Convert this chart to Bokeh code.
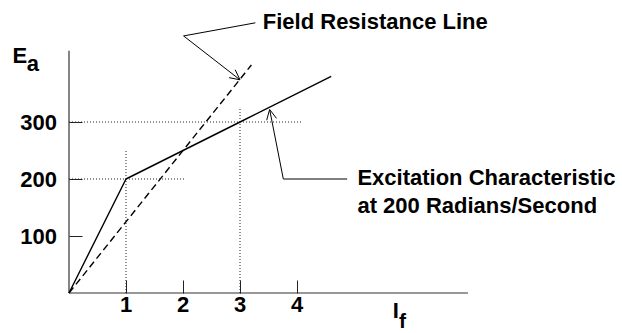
from bokeh.plotting import figure
from bokeh.models import Range1d, FixedTicker, Label, Arrow, OpenHead
from bokeh.embed import file_html
from bokeh.resources import INLINE

# ---- data ----
if_ticks = [1, 2, 3, 4]
ea_ticks = [100, 200, 300]

# excitation characteristic (solid)
exc_if = [0, 1, 2, 3, 4.6]
exc_ea = [0, 200, 250, 300, 380]

# field resistance line (dashed)
field_if = [0, 3.2]
field_ea = [0, 400]

# dotted guide lines
hguide_ea = [300, 200]
hguide_if_end = [4.1, 2.05]
vguide_if = [1, 3]
vguide_ea_end = [250, 325]

# axis extents
if_axis_max = 7.0
ea_axis_max = 425

# leader lines for callouts
field_lead_if = [3.27, 2.01, 3.0]
field_lead_ea = [474, 451, 374]
exc_lead_if = [4.88, 3.76, 3.52]
exc_lead_ea = [200, 200, 322]

FONT = "Liberation Sans"
PX_X = 57.0   # pixels per unit of I_f
PX_Y = 0.57   # pixels per unit of E_a

W, H = 622, 333
OX, OY = 68.5, 292.5   # pixel position of the origin

p = figure(width=W, height=H,
           x_range=Range1d(-OX / PX_X, (W - OX) / PX_X),
           y_range=Range1d(-(H - OY) / PX_Y, OY / PX_Y),
           min_border_left=0, min_border_bottom=0,
           min_border_top=0, min_border_right=0,
           output_backend="svg", toolbar_location=None)
p.grid.visible = False
p.outline_line_color = None
p.background_fill_color = "white"
p.border_fill_color = "white"

for ax in (p.xaxis[0], p.yaxis[0]):
    ax.fixed_location = 0
    ax.axis_line_color = None
    ax.major_tick_in = 13
    ax.major_tick_out = 0
    ax.minor_tick_line_color = None
    ax.major_tick_line_color = "#222222"
    ax.major_tick_line_width = 1
    ax.major_label_text_font = FONT
    ax.major_label_text_font_style = "bold"
    ax.major_label_text_font_size = "22px"
    ax.major_label_text_color = "black"

p.xaxis[0].ticker = FixedTicker(ticks=if_ticks)
p.yaxis[0].ticker = FixedTicker(ticks=ea_ticks)
p.xaxis[0].major_label_standoff = 4
p.yaxis[0].major_label_standoff = 12

# axis lines
p.segment(x0=[0, 0], y0=[0, 0], x1=[0, if_axis_max], y1=[ea_axis_max, 0],
          line_color="#333333", line_width=1.2)

# dotted guides
p.segment(x0=[0] * len(hguide_ea), y0=hguide_ea, x1=hguide_if_end, y1=hguide_ea,
          line_color="#222222", line_width=1, line_dash="1 2")
p.segment(x0=vguide_if, y0=[0] * len(vguide_if), x1=vguide_if, y1=vguide_ea_end,
          line_color="#222222", line_width=1, line_dash="1 2")

# curves
p.line(exc_if, exc_ea, line_color="black", line_width=1.4)
p.line(field_if, field_ea, line_color="black", line_width=1.4, line_dash="7 4")

# leaders
p.line(field_lead_if[:2], field_lead_ea[:2], line_color="black", line_width=1)
p.add_layout(Arrow(end=OpenHead(size=10, line_width=1, line_color="black"),
                   x_start=field_lead_if[1], y_start=field_lead_ea[1],
                   x_end=field_lead_if[2], y_end=field_lead_ea[2],
                   line_color="black", line_width=1))
p.line(exc_lead_if[:2], exc_lead_ea[:2], line_color="black", line_width=1)
p.add_layout(Arrow(end=OpenHead(size=10, line_width=1, line_color="black"),
                   x_start=exc_lead_if[1], y_start=exc_lead_ea[1],
                   x_end=exc_lead_if[2], y_end=exc_lead_ea[2],
                   line_color="black", line_width=1))

def lab(x, y, t, size="22px"):
    p.add_layout(Label(x=x, y=y, text=t, text_font=FONT, text_font_style="bold",
                       text_font_size=size, text_color="black",
                       text_baseline="alphabetic", text_align="left"))

lab(3.40, 476, "Field Resistance Line")
lab(5.06, 202, "Excitation Characteristic")
lab(5.06, 154, "at 200 Radians/Second")
# axis titles
lab(-0.99, 416, "E")
lab(-0.74, 402, "a")
lab(5.68, -31, "I")
lab(5.79, -48, "f", size="21px")

open("out.html", "w").write(file_html(p, INLINE))
